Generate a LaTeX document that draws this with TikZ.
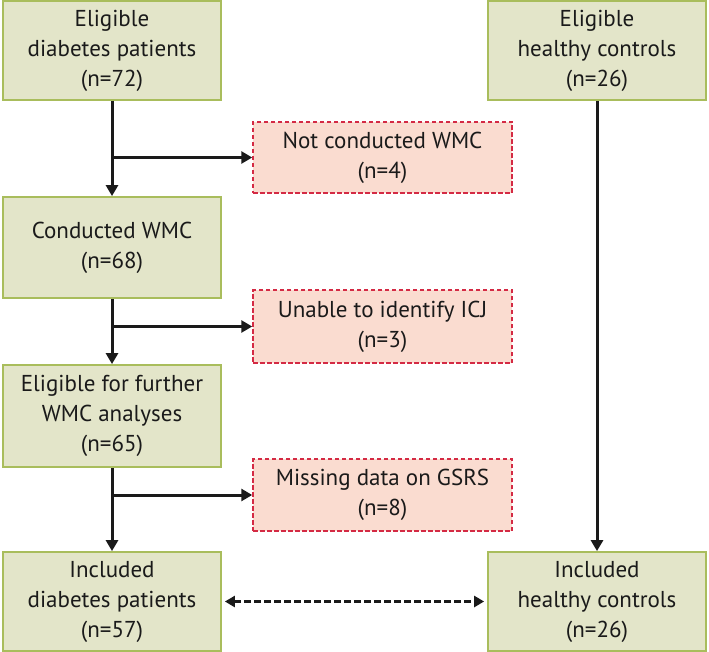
\documentclass[tikz,border=0pt]{standalone}
\usepackage{fontspec}
\setmainfont{PT Sans}
\usetikzlibrary{arrows.meta}
\definecolor{gfill}{HTML}{E3E5C9}
\definecolor{gline}{HTML}{A9BD5C}
\definecolor{rfill}{HTML}{FADCD0}
\definecolor{rline}{HTML}{D42A44}
\definecolor{ink}{HTML}{1A1A1A}
\begin{document}
\begin{tikzpicture}[x=1pt,y=-1pt,
  gbox/.style={draw=gline,fill=gfill,line width=1.8pt,minimum width=218pt,align=center,inner sep=0pt,font=\fontsize{23}{30}\selectfont,text=ink},
  rbox/.style={draw=rline,fill=rfill,line width=1.5pt,dash pattern=on 4.5pt off 2.5pt,minimum width=259pt,align=center,inner sep=0pt,font=\fontsize{23}{30}\selectfont,text=ink},
  arr/.style={draw=ink,line width=3pt,-{Triangle[length=11pt,width=12pt]}},
  darr/.style={draw=ink,line width=2.6pt,dash pattern=on 6.5pt off 3.5pt,{Triangle[length=10pt,width=11pt]}-{Triangle[length=10pt,width=11pt]}}]
\useasboundingbox (0,0) rectangle (709,652);
\node[gbox,minimum height=99pt] (b1) at (112,50.5) {Eligible\\diabetes patients\\(n=72)};
\node[gbox,minimum height=101pt] (b2) at (112,247.5) {Conducted WMC\\(n=68)};
\node[gbox,minimum height=102pt] (b3) at (112,416) {Eligible for further\\WMC analyses\\(n=65)};
\node[gbox,minimum height=99pt] (b4) at (112,601.5) {Included\\diabetes patients\\(n=57)};
\node[gbox,minimum height=99pt] (h1) at (597,50.5) {Eligible\\healthy controls\\(n=26)};
\node[gbox,minimum height=99pt] (h2) at (597,601.5) {Included\\healthy controls\\(n=26)};
\node[rbox,minimum height=71pt] (r1) at (382.5,157.5) {Not conducted WMC\\(n=4)};
\node[rbox,minimum height=73pt] (r2) at (382.5,326.5) {Unable to identify ICJ\\(n=3)};
\node[rbox,minimum height=72pt] (r3) at (382.5,495) {Missing data on GSRS\\(n=8)};
\draw[arr] (b1.south) -- (b2.north);
\draw[arr] (b2.south) -- (b3.north);
\draw[arr] (b3.south) -- (b4.north);
\draw[arr] (b1.south |- r1.west) -- (r1.west);
\draw[arr] (b2.south |- r2.west) -- (r2.west);
\draw[arr] (b3.south |- r3.west) -- (r3.west);
\draw[arr] (h1.south) -- (h2.north);
\draw[darr] ([xshift=3pt]b4.east) -- ([xshift=-3pt]h2.west);
\end{tikzpicture}
\end{document}
